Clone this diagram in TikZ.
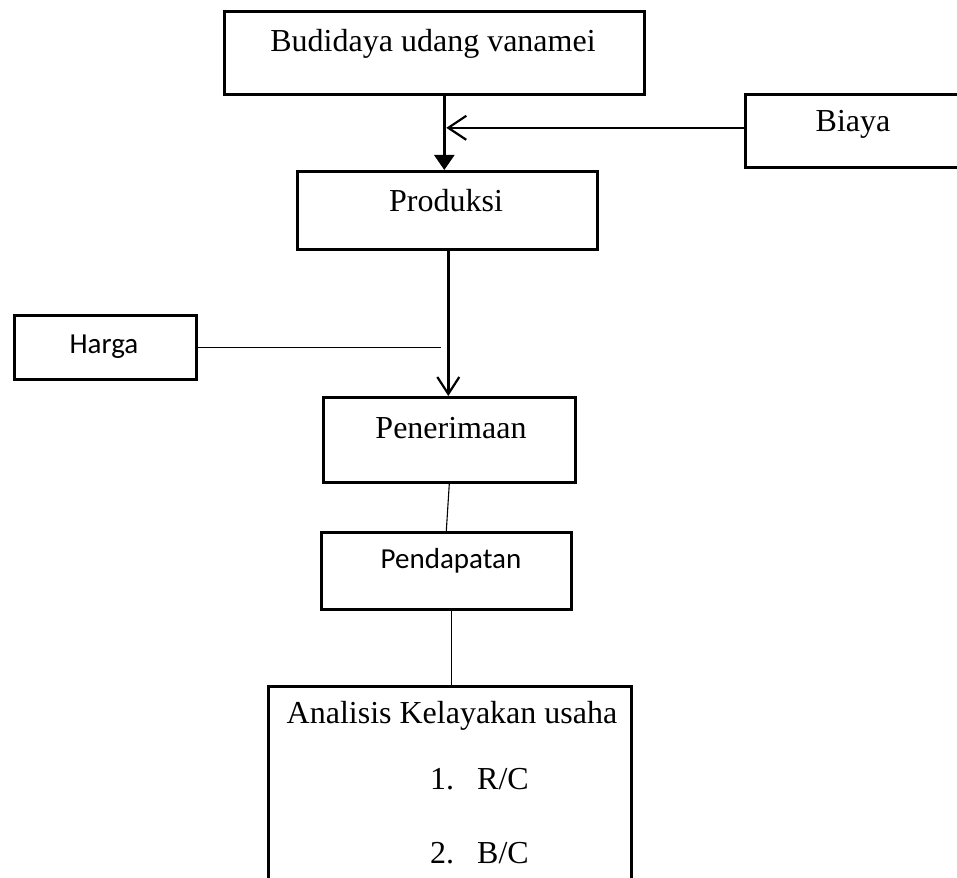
\documentclass[tikz,border=0pt]{standalone}
\usepackage{fontspec}
\setmainfont{Liberation Serif}
\newfontfamily\calibri{Carlito}
\usetikzlibrary{arrows.meta,calc}
\begin{document}
\begin{tikzpicture}[x=1pt,y=-1pt,
  box/.style={draw,line width=2.6pt,inner sep=0pt,anchor=north west},
  serif/.style={inner sep=0pt,font=\fontsize{32}{38}\selectfont},
  sans/.style={inner sep=0pt,font=\calibri\fontsize{29}{35}\selectfont},
  thick arrow/.style={line width=2.4pt},
  thin line/.style={line width=1.1pt}]
\useasboundingbox (0,0) rectangle (957,877);
\clip (0,0) rectangle (957,877);
% boxes
\node[box,minimum width=420pt,minimum height=83pt] (b1) at (223,10) {};
\node[box,minimum width=300pt,minimum height=78pt] (b2) at (296,170) {};
\node[box,minimum width=240pt,minimum height=73pt] (biaya) at (744,93) {};
\node[box,minimum width=182pt,minimum height=64pt] (harga) at (13,314) {};
\node[box,minimum width=252pt,minimum height=85pt] (pen) at (322,396) {};
\node[box,minimum width=250pt,minimum height=77pt] (pend) at (320,531) {};
\node[box,minimum width=363pt,minimum height=230pt] (anal) at (267,685) {};
% texts
\node[serif] (t1) at (433,44) {Budidaya udang vanamei};
\node[serif] (t2) at (446,201) {Produksi};
\node[serif] (tb) at (853,124) {Biaya};
\node[sans] (th) at (104,347) {Harga};
\node[serif] (tp) at (451,428) {Penerimaan};
\node[sans] (tpd) at (451,561) {Pendapatan};
\node[serif] (ta) at (452,716) {Analisis Kelayakan usaha};
\node[serif,anchor=west] (n1) at (430,779) {1.};
\node[serif,anchor=west] (r1) at (477,779) {R/C};
\node[serif,anchor=west] (n2) at (430,853) {2.};
\node[serif,anchor=west] (r2) at (477,853) {B/C};
% connectors
\coordinate (j1) at ([xshift=10pt]b1.south);
\draw[thick arrow,-{Triangle[width=20pt,length=15pt]}] (j1) -- (j1 |- b2.north);
\coordinate (j2) at (j1 |- biaya.west);
\draw[thick arrow,-{Straight Barb[width=24pt,length=18pt,line width=2.2pt]}] ([yshift=3pt]biaya.west) -- ([xshift=2pt,yshift=3pt]j2);
\coordinate (j3) at ([xshift=1pt]b2.south);
\draw[thick arrow,-{Straight Barb[width=22pt,length=17pt,line width=2.2pt]}] (j3) -- (j3 |- pen.north);
\coordinate (j4) at ([xshift=-7pt]j3 |- harga.east);
\draw[thin line] (harga.east) -- (j4);
\draw[thin line] (pen.south) -- (pend.north);
\draw[thin line] ([xshift=5pt]pend.south) -- ([xshift=5pt]pend.south |- anal.north);
\end{tikzpicture}
\end{document}
